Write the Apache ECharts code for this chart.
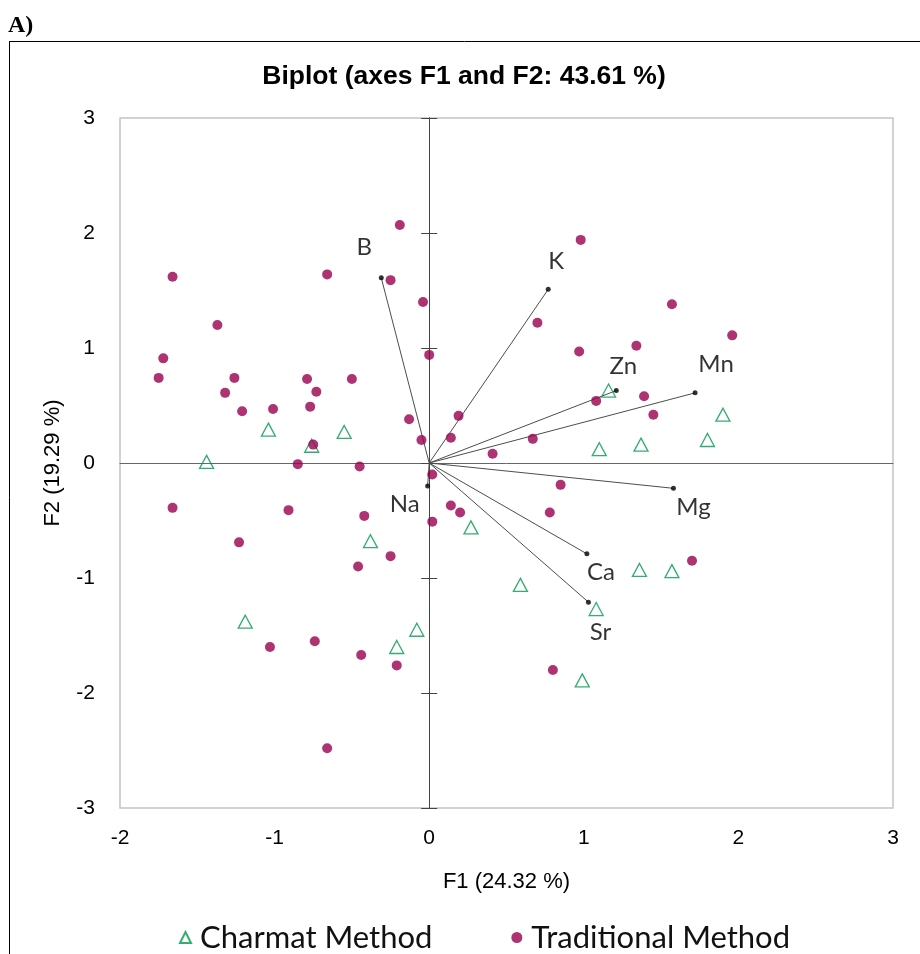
<!DOCTYPE html>
<html>
<head>
<meta charset="utf-8">
<script src="https://cdn.jsdelivr.net/npm/echarts@6/dist/echarts.min.js"></script>
<style>
html,body{margin:0;padding:0;background:#fff;}
#chart{width:920px;height:954px;}
</style>
</head>
<body>
<div id="chart"></div>
<script>
// ---- data ----
const xTicks = [-2, -1, 0, 1, 2, 3];
const yTicks = [-3, -2, -1, 0, 1, 2, 3];

const charmatMethod = [
  [-1.04, 0.29], [-0.76, 0.15], [-0.55, 0.27], [-1.44, 0.01], [1.16, 0.63],
  [1.90, 0.42], [1.37, 0.16], [1.80, 0.20], [1.10, 0.12], [-0.38, -0.68],
  [-1.19, -1.38], [-0.08, -1.45], [-0.21, -1.60], [0.27, -0.56], [0.59, -1.06],
  [1.08, -1.27], [1.36, -0.93], [1.57, -0.94], [0.99, -1.89]
];

const traditionalMethod = [
  [-0.19, 2.07], [-1.66, 1.62], [-0.66, 1.64], [-0.25, 1.59], [-0.04, 1.40],
  [-1.37, 1.20], [0.00, 0.94], [-1.72, 0.91], [-1.75, 0.74], [-1.26, 0.74],
  [-0.79, 0.73], [-0.50, 0.73], [-1.32, 0.61], [-0.73, 0.62], [-0.77, 0.49],
  [-1.21, 0.45], [-1.01, 0.47], [-0.13, 0.38], [-0.05, 0.20], [-0.75, 0.16],
  [-0.85, -0.01], [-0.45, -0.03], [0.02, -0.10],
  [0.98, 1.94], [1.57, 1.38], [0.70, 1.22], [1.96, 1.11], [1.34, 1.02],
  [0.97, 0.97], [1.39, 0.58], [1.08, 0.54], [1.45, 0.42], [0.19, 0.41],
  [0.14, 0.22], [0.67, 0.21], [0.41, 0.08],
  [-1.66, -0.39], [-0.91, -0.41], [-0.42, -0.46], [0.02, -0.51], [-1.23, -0.69],
  [-0.25, -0.81], [-0.46, -0.90], [-1.03, -1.60], [-0.74, -1.55], [-0.44, -1.67],
  [-0.21, -1.76], [-0.66, -2.48],
  [0.85, -0.19], [0.14, -0.37], [0.20, -0.43], [0.78, -0.43], [1.70, -0.85],
  [0.80, -1.80]
];

const variableNames = ['B', 'K', 'Zn', 'Mn', 'Mg', 'Ca', 'Sr', 'Na'];
const loadingF1 = [-0.31, 0.77, 1.21, 1.72, 1.58, 1.02, 1.03, -0.01];
const loadingF2 = [1.61, 1.51, 0.63, 0.61, -0.22, -0.79, -1.21, -0.20];

// label offsets in pixels (style, not data)
const labelOffset = {
  B: [-17, -31], K: [8, -28], Zn: [7, -24], Mn: [21, -29],
  Mg: [20, 19], Ca: [14, 18], Sr: [12, 30], Na: [-23, 18]
};

// ---- chart ----
const chart = echarts.init(document.getElementById('chart'), null, {renderer: 'canvas'});
const axisFont = 'Liberation Sans, Arial, sans-serif';
const calibriLike = 'Lato, "Open Sans", sans-serif';

const vectorSeries = variableNames.map((n, i) => ({
  name: 'vec_' + n,
  type: 'line',
  data: [[0, 0], [loadingF1[i], loadingF2[i]]],
  symbol: 'none',
  lineStyle: {color: '#4d4d4d', width: 1},
  silent: true,
  z: 3
}));

const endpointSeries = {
  name: 'loadings',
  type: 'scatter',
  data: variableNames.map((n, i) => ({
    name: n,
    value: [loadingF1[i], loadingF2[i]],
    label: {offset: labelOffset[n]}
  })),
  symbol: 'circle',
  symbolSize: 5,
  itemStyle: {color: '#000'},
  label: {
    show: true,
    position: 'inside',
    formatter: p => p.name,
    fontFamily: calibriLike,
    fontSize: 24,
    color: '#000'
  },
  silent: true,
  z: 4
};

const yMin = yTicks[0], yMax = yTicks[yTicks.length - 1];
const xMin = xTicks[0], xMax = xTicks[xTicks.length - 1];

const option = {
  animation: false,
  backgroundColor: '#fff',
  title: {
    text: 'Biplot (axes F1 and F2: 43.61 %)',
    left: 459, top: 58, textAlign: 'center',
    textStyle: {fontFamily: axisFont, fontWeight: 'bold', fontSize: 26.5, color: '#000'}
  },
  graphic: [
    {type: 'text', left: 8, top: 14, style: {text: 'A)', font: 'bold 24px "Liberation Serif", "Times New Roman", serif', fill: '#000'}},
    {type: 'line', shape: {x1: 9, y1: 41.5, x2: 920, y2: 41.5}, style: {stroke: '#000', lineWidth: 1}},
    {type: 'line', shape: {x1: 9.5, y1: 41, x2: 9.5, y2: 954}, style: {stroke: '#000', lineWidth: 1}}
  ],
  legend: {
    data: [
      {name: 'Charmat Method', icon: 'triangle', itemStyle: {color: '#fff', borderColor: '#00994c', borderWidth: 2}},
      {name: 'Traditional Method', icon: 'circle'}
    ],
    top: 917, left: 174,
    itemWidth: 11, itemHeight: 11, itemGap: 79,
    textStyle: {fontFamily: calibriLike, fontSize: 31, color: '#111', padding: [0, 0, 0, 4]}
  },
  grid: {
    left: 120, top: 118, width: 773, height: 690,
    show: true, borderColor: '#c4c4c4', borderWidth: 1.5, backgroundColor: 'transparent'
  },
  xAxis: [
    {
      type: 'value', min: xMin, max: xMax, interval: 1, position: 'bottom',
      axisLine: {show: false, onZero: false},
      axisTick: {show: false}, splitLine: {show: false},
      axisLabel: {fontFamily: axisFont, fontSize: 21, color: '#000', margin: 20},
      name: 'F1 (24.32 %)', nameLocation: 'middle', nameGap: 63,
      nameTextStyle: {fontFamily: axisFont, fontSize: 22, color: '#000'}
    },
    {
      type: 'value', min: xMin, max: xMax, interval: 1,
      axisLine: {show: true, onZero: true, lineStyle: {color: '#666', width: 1}},
      axisTick: {show: false}, axisLabel: {show: false}, splitLine: {show: false}
    }
  ],
  yAxis: [
    {
      type: 'value', min: yMin, max: yMax, interval: 1, position: 'left',
      axisLine: {show: false, onZero: false},
      axisTick: {show: false}, splitLine: {show: false},
      axisLabel: {fontFamily: axisFont, fontSize: 21, color: '#000', margin: 25},
      name: 'F2 (19.29 %)', nameLocation: 'middle', nameGap: 56, nameRotate: 90,
      nameTextStyle: {fontFamily: axisFont, fontSize: 22, color: '#000'}
    },
    {
      type: 'value', min: yMin, max: yMax, interval: 1, position: 'left',
      axisLine: {show: true, onZero: true, lineStyle: {color: '#444', width: 1}},
      axisTick: {show: true, length: 8, inside: false, lineStyle: {color: '#444'}},
      axisLabel: {show: false}, splitLine: {show: false}
    },
    {
      type: 'value', min: yMin, max: yMax, interval: 1, position: 'left',
      axisLine: {show: true, onZero: true, lineStyle: {color: '#444', width: 1}},
      axisTick: {show: true, length: 8, inside: true, lineStyle: {color: '#444'}},
      axisLabel: {show: false}, splitLine: {show: false}
    }
  ],
  series: [
    ...vectorSeries,
    endpointSeries,
    {
      name: 'Charmat Method', type: 'scatter', data: charmatMethod,
      symbol: 'triangle', symbolSize: [14, 13],
      itemStyle: {color: 'rgba(255,255,255,0)', borderColor: '#00994c', borderWidth: 1.3},
      z: 5
    },
    {
      name: 'Traditional Method', type: 'scatter', data: traditionalMethod,
      symbol: 'circle', symbolSize: 10,
      itemStyle: {color: '#99004f'},
      z: 5
    }
  ]
};
chart.setOption(option);
</script>
</body>
</html>
